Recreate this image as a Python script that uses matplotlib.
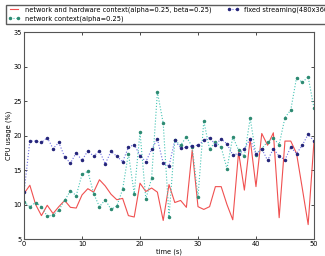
import numpy as np
import matplotlib
matplotlib.use('Agg')
import matplotlib.pyplot as plt

# time axis (s)
t = np.arange(51)

# network and hardware context(alpha=0.25, beta=0.25)
hw_ctx = [11.6, 12.8, 10.0, 8.4, 9.9, 8.7, 9.7, 10.6, 9.6, 9.5,
          11.4, 12.3, 11.8, 13.6, 12.7, 11.5, 10.7, 10.9, 8.4, 8.2,
          13.1, 11.9, 12.4, 11.8, 7.7, 12.9, 10.3, 10.6, 9.6, 17.9,
          9.7, 9.3, 9.7, 12.6, 12.6, 10.0, 7.8, 17.6, 12.1, 19.5,
          12.6, 20.3, 18.6, 20.4, 8.1, 19.2, 19.2, 17.4, 12.3, 7.1, 19.1]

# network context(alpha=0.25)
net_ctx = [10.4, 9.7, 10.3, 9.7, 8.3, 8.5, 9.2, 10.6, 12.0, 11.3,
           14.4, 14.8, 11.6, 9.7, 10.7, 9.3, 9.8, 12.2, 17.4, 11.6,
           20.5, 10.8, 13.8, 26.3, 21.8, 8.2, 19.3, 18.6, 19.8, 18.4,
           11.1, 22.1, 18.0, 19.1, 18.3, 15.2, 19.8, 17.9, 17.0, 22.5,
           17.2, 18.1, 19.1, 19.6, 18.7, 22.6, 23.7, 28.4, 27.7, 28.5, 24.0]

# fixed streaming(480x360)
fixed = [11.8, 19.2, 19.2, 19.0, 19.7, 18.1, 19.0, 16.9, 16.0, 17.5,
         16.4, 17.8, 17.0, 17.8, 15.9, 17.7, 17.0, 16.2, 18.3, 18.7,
         17.1, 16.2, 18.0, 19.5, 16.0, 15.6, 19.3, 18.2, 18.3, 18.5,
         18.6, 19.3, 19.7, 18.7, 19.5, 18.8, 17.2, 17.4, 18.1, 19.5,
         17.3, 18.1, 16.4, 18.1, 17.0, 16.5, 18.3, 17.4, 18.6, 20.2, 19.2]

fs = 4.8
fig = plt.figure(figsize=(3.25, 2.56), dpi=100)
ax = fig.add_axes([0.074, 0.066, 0.892, 0.809])

l1, = ax.plot(t, hw_ctx, '-', color='#f05050', lw=0.8,
              label='network and hardware context(alpha=0.25, beta=0.25)')
l2, = ax.plot(t, net_ctx, ':', color='#45c4b4', lw=0.8, marker='o', ms=1.5,
              mfc='#2e8a72', mec='#2e8a72',
              label='network context(alpha=0.25)')
l3, = ax.plot(t, fixed, ':', color='#6a6ae0', lw=0.8, marker='o', ms=1.5,
              mfc='#26267a', mec='#26267a',
              label='fixed streaming(480x360)')

ax.set_xlim(0, 50)
ax.set_ylim(5, 35)
ax.set_xticks([0, 10, 20, 30, 40, 50])
ax.set_yticks([5, 10, 15, 20, 25, 30, 35])
ax.tick_params(direction='in', labelsize=fs, top=True, right=True,
               length=2.5, width=0.5, pad=1.5)
for s in ax.spines.values():
    s.set_linewidth(0.8)
    s.set_color('#555555')

ax.set_xlabel('time (s)', fontsize=fs, labelpad=1)
ax.set_ylabel('CPU usage (%)', fontsize=fs, labelpad=1)

fig.legend(handles=[l1, l2, l3], ncol=2, loc='upper left',
           bbox_to_anchor=(0.008, 0.995), fontsize=fs, numpoints=2,
           frameon=True, fancybox=False, edgecolor='#333333',
           borderpad=0.3, handlelength=1.8, columnspacing=2.2,
           labelspacing=0.3, handletextpad=0.8)

fig.savefig('out.png', dpi=100)
